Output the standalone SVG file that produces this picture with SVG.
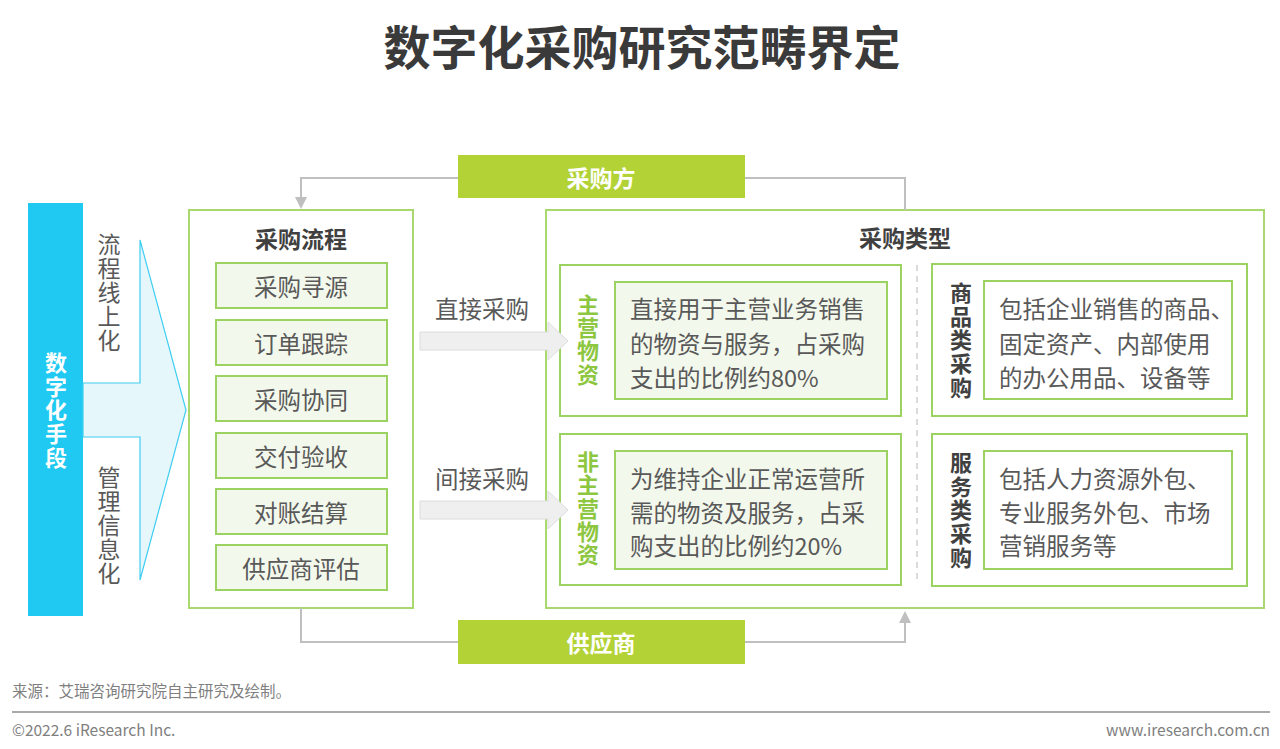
<svg xmlns="http://www.w3.org/2000/svg" width="1280" height="749" viewBox="0 0 1280 749">
<style>
text{font-family:"Noto Sans CJK SC","Noto Sans",sans-serif;dominant-baseline:central}
.title{font-size:47px;font-weight:bold;fill:#3a3a3a;text-anchor:middle}
.h{font-size:23px;font-weight:bold;fill:#404040;text-anchor:middle}
.item{font-size:23.5px;fill:#595959;text-anchor:middle}
.body{font-size:23.5px;fill:#595959}
.vert{writing-mode:vertical-rl;text-anchor:middle}
.vg{font-size:22px;font-weight:bold;fill:#8DC63F;letter-spacing:1.3px}
.vd{font-size:22px;font-weight:bold;fill:#404040;letter-spacing:1.75px}
.vt{font-size:23px;fill:#595959;letter-spacing:1px}
.gbox{fill:#fff;stroke:#A9D86E;stroke-width:2}
.ibox{fill:#F3F8EC;stroke:#9BD261;stroke-width:2}
.wbox{fill:#fff;stroke:#9BD261;stroke-width:2}
.band{fill:#B2D235}
.bandt{font-size:23px;font-weight:bold;fill:#fff;text-anchor:middle}
.conn{fill:none;stroke:#BFBFBF;stroke-width:2}
.garrow{fill:#EFEFEF;stroke:#DCDCDC;stroke-width:1}
.foot{font-size:15.5px;fill:#7F7F7F}
</style>

<text class="title" x="642" y="44">数字化采购研究范畴界定</text>

<g id="digital-means">
<rect x="28" y="203" width="55" height="413" fill="#1FC9F1"/>
<text class="vert" x="56" y="411" font-size="22" font-weight="bold" fill="#fff" letter-spacing="1.75">数字化手段</text>
</g>

<g id="big-arrow">
<path d="M83,383 H140 V240 L186,410 L140,580 V437 H83 z" fill="#E6F7FC" stroke="#3FCDF2" stroke-width="1.2"/>
<rect x="84" y="238" width="55" height="144" fill="#fff"/>
<rect x="84" y="438" width="55" height="144" fill="#fff"/>
<text class="vt vert" x="109" y="293">流程线上化</text>
<text class="vt vert" x="109" y="526">管理信息化</text>
</g>

<g id="process">
<rect class="gbox" x="189" y="210" width="224" height="398"/>
<text class="h" x="301" y="238">采购流程</text>
<rect class="ibox" x="216" y="263" width="171" height="45"/>
<text class="item" x="301" y="286">采购寻源</text>
<rect class="ibox" x="216" y="320" width="171" height="45"/>
<text class="item" x="301" y="343">订单跟踪</text>
<rect class="ibox" x="216" y="376" width="171" height="45"/>
<text class="item" x="301" y="399">采购协同</text>
<rect class="ibox" x="216" y="433" width="171" height="45"/>
<text class="item" x="301" y="456">交付验收</text>
<rect class="ibox" x="216" y="489" width="171" height="45"/>
<text class="item" x="301" y="512">对账结算</text>
<rect class="ibox" x="216" y="545" width="171" height="45"/>
<text class="item" x="301" y="568">供应商评估</text>
</g>

<g id="types">
<rect class="gbox" x="546" y="210" width="718" height="398"/>
<text class="h" x="905" y="237">采购类型</text>
<line x1="917" y1="265" x2="917" y2="584" stroke="#D0D0D0" stroke-width="1.5" stroke-dasharray="6,5"/>
</g>

<g id="main-goods">
<rect class="wbox" x="560" y="265" width="341" height="151"/>
<text class="vg vert" x="588" y="340">主营物资</text>
<rect class="ibox" x="615" y="282" width="272" height="117"/>
<text class="body"><tspan x="630" y="308">直接用于主营业务销售</tspan><tspan x="630" y="343">的物资与服务，占采购</tspan><tspan x="630" y="377">支出的比例约80%</tspan></text>
</g>

<g id="nonmain-goods">
<rect class="wbox" x="560" y="434" width="341" height="151"/>
<text class="vg vert" x="588" y="509">非主营物资</text>
<rect class="ibox" x="615" y="451" width="272" height="118"/>
<text class="body"><tspan x="630" y="478">为维持企业正常运营所</tspan><tspan x="630" y="512">需的物资及服务，占采</tspan><tspan x="630" y="545">购支出的比例约20%</tspan></text>
</g>

<g id="goods-type">
<rect class="wbox" x="932" y="264" width="315" height="152"/>
<text class="vd vert" x="961" y="341">商品类采购</text>
<rect class="wbox" x="984" y="281" width="248" height="118"/>
<text class="body"><tspan x="999" y="308">包括企业销售的商品、</tspan><tspan x="999" y="343">固定资产、内部使用</tspan><tspan x="999" y="377">的办公用品、设备等</tspan></text>
</g>

<g id="service-type">
<rect class="wbox" x="932" y="434" width="315" height="152"/>
<text class="vd vert" x="961" y="511">服务类采购</text>
<rect class="wbox" x="984" y="451" width="248" height="118"/>
<text class="body"><tspan x="999" y="478">包括人力资源外包、</tspan><tspan x="999" y="512">专业服务外包、市场</tspan><tspan x="999" y="545">营销服务等</tspan></text>
</g>

<g id="connectors">
<path class="conn" d="M905,210 V178 H301 V200"/>
<path d="M295,197 L307,197 L301,209 z" fill="#BFBFBF"/>
<path class="conn" d="M301,608 V642 H905 V620"/>
<path d="M899,623 L911,623 L905,611 z" fill="#BFBFBF"/>
<path class="garrow" d="M420,332 H548 V322 L568,341 L548,360 V350 H420 z"/>
<path class="garrow" d="M420,501 H548 V491 L568,510 L548,529 V519 H420 z"/>
<text class="item" x="482" y="308">直接采购</text>
<text class="item" x="482" y="478">间接采购</text>
</g>

<g id="buyer">
<rect class="band" x="458" y="155" width="287" height="43"/>
<text class="bandt" x="601" y="177">采购方</text>
</g>
<g id="supplier">
<rect class="band" x="458" y="620" width="287" height="44"/>
<text class="bandt" x="601" y="642">供应商</text>
</g>

<g id="footer">
<text class="foot" x="12" y="690">来源：艾瑞咨询研究院自主研究及绘制。</text>
<line x1="12" y1="712" x2="1270" y2="712" stroke="#8C8C8C" stroke-width="1.5"/>
<text class="foot" x="12" y="729">©2022.6 iResearch Inc.</text>
<text class="foot" x="1270" y="729" text-anchor="end">www.iresearch.com.cn</text>
</g>
</svg>
